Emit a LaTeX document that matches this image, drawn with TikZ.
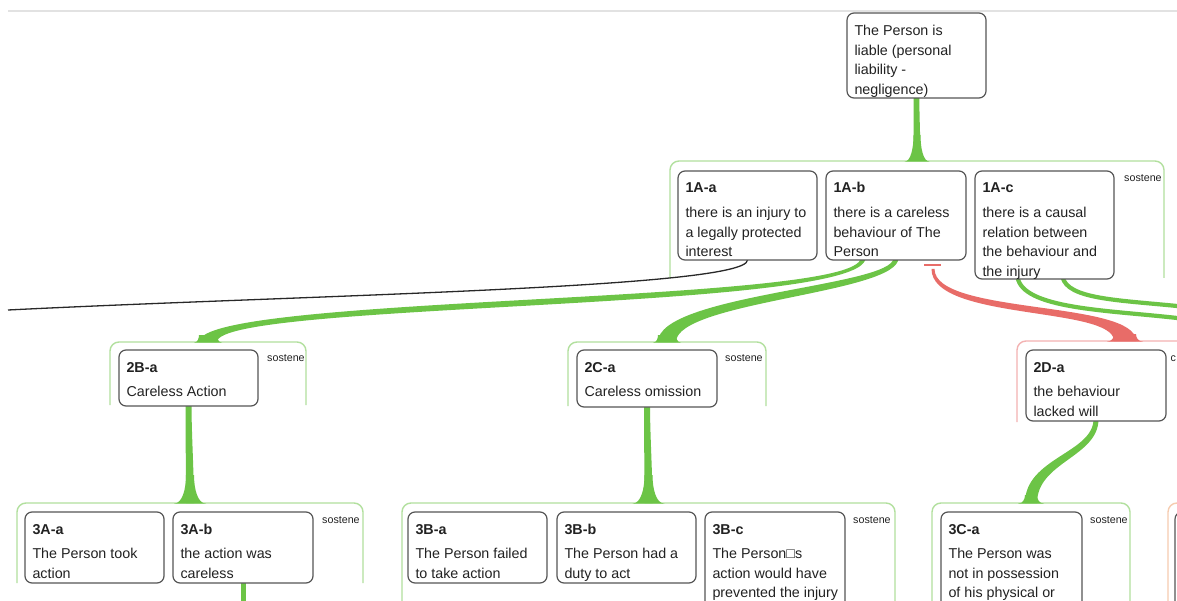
\documentclass[tikz,border=0pt]{standalone}
\usepackage{fontspec}
\setmainfont{Liberation Sans}
\usetikzlibrary{calc}
\pgfdeclarelayer{back}
\pgfdeclarelayer{conn}
\pgfsetlayers{back,conn,main}
\definecolor{gmain}{RGB}{108,196,70}
\definecolor{gline}{RGB}{178,224,158}
\definecolor{rmain}{RGB}{232,108,104}
\definecolor{rline}{RGB}{243,178,178}
\definecolor{oline}{RGB}{246,204,176}
\definecolor{bord}{RGB}{85,85,85}
\definecolor{txt}{RGB}{34,34,34}
\definecolor{topl}{RGB}{226,226,226}
\definecolor{blk}{RGB}{40,40,40}
% argument box: width, height, label, text
\newcommand\myargbox[4]{\parbox[b][#2pt][t]{#1pt}{\fontsize{14.3}{19.5}\selectfont\leftskip=7.5pt\rightskip=0pt plus 1fil\lineskiplimit=0pt\lineskip=0pt\rule{0pt}{22pt}\textbf{#3}\par\rule{0pt}{24.5pt}#4}}
\newcommand\myrtbox[3]{\parbox[b][#2pt][t]{#1pt}{\fontsize{14.3}{19.5}\selectfont\leftskip=7.5pt\rightskip=0pt plus 1fil\lineskiplimit=0pt\lineskip=0pt\rule{0pt}{23pt}#3}}
% tapered connector: start, end, h0, h1, d, a, b, colour
\newcommand\mytcon[8]{%
 \pgfmathsetmacro\tcLa{#3-(#5)}%
 \pgfmathsetmacro\tcLb{-(#4)-(#5)}%
 \pgfmathsetmacro\tcRa{#3+(#5)}%
 \pgfmathsetmacro\tcRb{-(#4)+(#5)}%
 \fill[#8] ($(#1)+(-#6,0)$) .. controls ($(#1)+(-#6,\tcLa)$) and ($(#2)+(-#7,\tcLb)$) .. ($(#2)+(-#7,0)$) -- ($(#2)+(#7,0)$) .. controls ($(#2)+(#7,\tcRb)$) and ($(#1)+(#6,\tcRa)$) .. ($(#1)+(#6,0)$) -- cycle;}
% flare at connector end: point, half width, height, stem half width, colour
\newcommand\myflare[5]{%
 \pgfmathsetmacro\flH{-0.5*(#3)}%
 \pgfmathsetmacro\flX{(#4)+0.3*((#2)-(#4))}%
 \fill[#5] ($(#1)+(-#2,0.6)$) .. controls ($(#1)+(-\flX,0.6)$) and ($(#1)+(-#4,\flH)$) .. ($(#1)+(-#4,-#3)$) -- ($(#1)+(#4,-#3)$) .. controls ($(#1)+(#4,\flH)$) and ($(#1)+(\flX,0.6)$) .. ($(#1)+(#2,0.6)$) -- cycle;}
\tikzset{
 argnode/.style={draw=bord, fill=white, line width=1.2pt, rounded corners=7pt, inner sep=0pt, outer sep=0pt, anchor=north west, text=txt},
 grpnode/.style={draw=none, inner sep=0pt, outer sep=0pt, anchor=north west},
 grpedge/.style={line width=1.4pt, rounded corners=9pt},
 soslabel/.style={font=\fontsize{10.7}{12}\selectfont, text=txt, inner sep=0pt, anchor=base west},
}
\begin{document}
\begin{tikzpicture}[x=1pt,y=-1pt]
\useasboundingbox (0,0) rectangle (1177,601);
\begin{scope}
\clip (0,0) rectangle (1177,601);
% groups
\node[grpnode, minimum width=494pt, minimum height=117pt] (G1A) at (670,161) {};
\node[grpnode, minimum width=196pt, minimum height=63pt] (G2B) at (110,342) {};
\node[grpnode, minimum width=198pt, minimum height=64pt] (G2C) at (568,342) {};
\node[grpnode, minimum width=300pt, minimum height=81pt] (G2D) at (1017,341) {};
\node[grpnode, minimum width=346pt, minimum height=80pt] (G3A) at (17,503) {};
\node[grpnode, minimum width=493pt, minimum height=110pt] (G3B) at (402,503) {};
\node[grpnode, minimum width=198pt, minimum height=110pt] (G3C) at (932,503) {};
\node[grpnode, minimum width=200pt, minimum height=110pt] (G3D) at (1168,503) {};
% argument boxes
\node[argnode] (root) at (847,13) {\myrtbox{139}{85}{The Person is\\liable (personal\\liability -\\negligence)}};
\node[argnode] (n1Aa) at (678,171) {\myargbox{139}{89}{1A-a}{there is an injury to\\a legally protected\\interest}};
\node[argnode] (n1Ab) at (826,171) {\myargbox{140}{89}{1A-b}{there is a careless\\behaviour of The\\Person}};
\node[argnode] (n1Ac) at (975,171) {\myargbox{139}{108}{1A-c}{there is a causal\\relation between\\the behaviour and\\the injury}};
\node[argnode] (n2Ba) at (119,350) {\myargbox{139}{56}{2B-a}{Careless Action}};
\node[argnode] (n2Ca) at (577,350) {\myargbox{140}{57}{2C-a}{Careless omission}};
\node[argnode] (n2Da) at (1026,350) {\myargbox{140}{71}{2D-a}{the behaviour\\lacked will}};
\node[argnode] (n3Aa) at (25,512) {\myargbox{139}{71}{3A-a}{The Person took\\action}};
\node[argnode] (n3Ab) at (173,512) {\myargbox{140}{71}{3A-b}{the action was\\careless}};
\node[argnode] (n3Ba) at (408,512) {\myargbox{139}{71}{3B-a}{The Person failed\\to take action}};
\node[argnode] (n3Bb) at (557,512) {\myargbox{139}{71}{3B-b}{The Person had a\\duty to act}};
\node[argnode] (n3Bc) at (705,512) {\myargbox{140}{100}{3B-c}{The Person□s\\action would have\\prevented the injury}};
\node[argnode] (n3Ca) at (941,512) {\myargbox{141}{100}{3C-a}{The Person was\\not in possession\\of his physical or}};
\node[argnode, minimum width=100pt, minimum height=100pt] (n3Da) at (1175,512) {};
% group labels
\node[soslabel] (sos1A) at (1124,182) {sostene};
\node[soslabel] (sos2B) at (267,361) {sostene};
\node[soslabel] (sos2C) at (725,361) {sostene};
\node[soslabel] (sos2D) at (1170.5,361) {c};
\node[soslabel] (sos3A) at (322,523) {sostene};
\node[soslabel] (sos3B) at (853,523) {sostene};
\node[soslabel] (sos3C) at (1090,523) {sostene};
\end{scope}
\begin{pgfonlayer}{back}
\fill[white] (0,0) rectangle (1177,601);
\begin{scope}
\clip (0,0) rectangle (1177,601);
\draw[topl, line width=1.5pt] (8,11) -- (1177,11);
\draw[grpedge, gline] (G1A.south west) -- (G1A.north west) -- (G1A.north east) -- (G1A.south east);
\draw[grpedge, gline] (G2B.south west) -- (G2B.north west) -- (G2B.north east) -- (G2B.south east);
\draw[grpedge, gline] (G2C.south west) -- (G2C.north west) -- (G2C.north east) -- (G2C.south east);
\draw[grpedge, rline] (G2D.south west) -- (G2D.north west) -- (G2D.north east);
\draw[grpedge, gline] (G3A.south west) -- (G3A.north west) -- (G3A.north east) -- (G3A.south east);
\draw[grpedge, gline] (G3B.south west) -- (G3B.north west) -- (G3B.north east) -- (G3B.south east);
\draw[grpedge, gline] (G3C.south west) -- (G3C.north west) -- (G3C.north east) -- (G3C.south east);
\draw[grpedge, oline] (G3D.south west) -- (G3D.north west) -- (G3D.north east);
\end{scope}
\end{pgfonlayer}
\begin{pgfonlayer}{conn}
\begin{scope}
\clip (0,0) rectangle (1177,601);
% root -> 1A
\coordinate (s1) at ($(root.south)+(0,-2)$);
\mytcon{s1}{G1A.north}{20}{20}{0}{2.8}{3.5}{gmain}
\myflare{G1A.north}{12.5}{26}{3.5}{gmain}
% 1A-b -> 2B
\coordinate (s2B) at ($(n1Ab.south)+(-33,-2)$);
\mytcon{s2B}{G2B.north}{50}{44}{3.5}{2.5}{9}{gmain}
\myflare{G2B.north}{14}{7}{9}{gmain}
% 1A-b -> 2C
\coordinate (s2C) at ($(n1Ab.south)+(0,-2)$);
\mytcon{s2C}{G2C.north}{32}{44}{3.5}{2.5}{9}{gmain}
\myflare{G2C.north}{14}{7}{9}{gmain}
% 1A-b -> 2D (red)
\coordinate (s2D) at ($(n1Ab.south)+(37,9)$);
\coordinate (e2D) at ($(G2D.north west)+(108,0)$);
\mytcon{s2D}{e2D}{49}{38}{-3}{1.5}{11}{rmain}
\myflare{e2D}{18}{7}{11}{rmain}
\coordinate (t2Da) at ($(n1Ab.south)+(28,5)$);
\coordinate (t2Db) at ($(n1Ab.south)+(45,5)$);
\draw[rmain, line width=1.2pt] (t2Da) -- (t2Db);
% 2B-a -> 3A
\coordinate (s3A) at ($(n2Ba.south)+(0,-2)$);
\mytcon{s3A}{G3A.north}{30}{30}{0}{3}{4}{gmain}
\myflare{G3A.north}{16}{28}{4}{gmain}
% 2C-a -> 3B
\coordinate (s3B) at ($(n2Ca.south)+(0,-2)$);
\mytcon{s3B}{G3B.north}{30}{30}{0}{3}{4}{gmain}
\myflare{G3B.north}{16}{28}{4}{gmain}
% 2D-a -> 3C
\coordinate (s3C) at ($(n2Da.south)+(0,-2)$);
\mytcon{s3C}{G3C.north}{36}{43}{2}{2.5}{6}{gmain}
\myflare{G3C.north}{13}{8}{6}{gmain}
% 3A-b downwards
\coordinate (s3Ab) at ($(n3Ab.south)+(0,-2)$);
\coordinate (e3Ab) at ($(n3Ab.south)+(0,30)$);
\draw[gmain, line width=5pt] (s3Ab) -- (e3Ab);
% 1A-a thin black connector to the left
\coordinate (eBl) at (8,310);
\draw[blk, line width=1.3pt] (n1Aa.south) .. controls +(0,28) and +(300,-15) .. (eBl);
% 1A-c connectors to the right
\coordinate (sC1) at ($(n1Ac.south)+(-27,-2)$);
\coordinate (eC1) at (1177,318);
\draw[gmain, line width=4.2pt] (sC1) .. controls +(5,32) and +(-70,-8) .. (eC1);
\coordinate (sC2) at ($(n1Ac.south)+(18,-2)$);
\coordinate (eC2) at (1177,306);
\draw[gmain, line width=4.2pt] (sC2) .. controls +(5,22) and +(-60,-6) .. (eC2);
\end{scope}
\end{pgfonlayer}
\end{tikzpicture}
\end{document}
